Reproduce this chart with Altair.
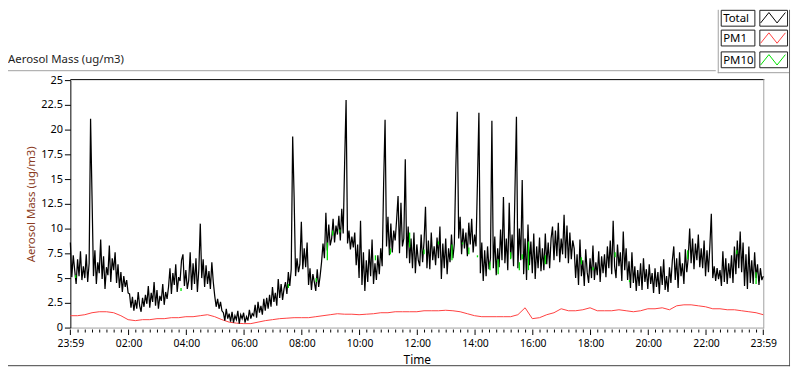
import altair as alt
import pandas as pd

FONT = "Noto Sans"

# ---------------- data ----------------
START_MIN = -1          # 23:59 of the previous day
TOTAL_STEP = 3          # minutes between Total samples
PM1_STEP = 15           # minutes between PM1 samples

total_values = [
    8.6, 5.1, 7.3, 5.8, 4.4, 6.9, 5.2, 7.7, 4.8, 6.2, 5.0, 7.4, 4.6, 6.5,
    21.1, 13.3,
    5.2, 7.8, 4.4, 6.6, 5.5, 8.9, 4.9, 7.2, 3.9, 6.1, 5.3, 8.3, 4.6, 7.0, 5.8, 7.6, 4.5,
    6.4, 4.0, 5.6, 3.6, 5.2, 4.1, 4.8, 3.5,
    3.4, 2.0, 3.1, 1.7, 2.8, 1.9, 3.6, 2.2, 1.6, 3.0, 2.1, 3.3,
    2.4, 4.2, 2.0, 3.5, 2.6, 4.6, 2.2, 3.8, 1.9, 3.2, 2.7, 4.4, 2.3, 3.6, 2.9,
    4.1, 6.0, 3.4, 5.5, 4.3, 6.4, 3.6, 5.1, 4.7, 6.8, 7.4, 4.2, 5.8, 3.9,
    4.8, 7.6, 3.8, 6.5, 4.4, 7.0, 3.6, 5.9,
    10.5,
    5.0, 6.9, 4.1, 6.3, 4.4, 5.7, 3.9, 6.6, 4.6,
    3.2, 2.1, 2.9, 1.9, 2.6, 1.7,
    1.5, 0.7, 1.9, 0.9, 1.4, 0.6, 1.6, 0.5, 1.2, 0.8, 1.7, 0.4, 1.3, 0.9, 1.5, 0.5,
    1.1, 0.7, 1.8, 0.9, 1.4,
    1.2, 2.3, 1.0, 2.6, 1.5, 2.2, 1.3, 2.9, 1.7, 3.0, 1.9,
    3.3, 2.1, 4.1, 2.6, 3.5, 2.2, 4.9, 3.0, 4.4, 2.8, 3.9, 4.6, 3.4,
    5.6, 4.2, 5.9,
    19.3, 13.2,
    5.2, 7.0, 5.6, 6.4,
    10.7,
    5.9, 8.0, 6.1, 8.6,
    4.3, 6.0, 3.8, 5.4, 4.6, 3.7, 5.9, 4.1, 5.2,
    6.6, 8.5, 7.0, 11.6, 7.8, 10.4, 8.3,
    9.0, 11.0, 8.6, 10.3, 9.4, 11.3, 8.8, 12.0, 9.5,
    16.7, 23.0,
    8.5, 9.8, 7.9, 9.2, 8.1, 9.6, 6.3, 8.4,
    5.0, 10.8, 4.3, 7.6, 3.7, 6.8, 4.6, 7.9, 5.2, 8.9, 4.4, 6.5, 4.8, 7.3,
    5.4, 8.0, 6.2,
    14.5, 21.0,
    8.2, 11.2, 7.3, 10.5, 7.6, 9.8, 8.8, 10.9,
    13.3, 7.5, 12.6, 8.2, 9.0, 17.0,
    7.0, 10.2, 6.5, 9.0, 6.0, 9.6, 5.5, 8.4, 6.8,
    6.2, 9.4, 6.6, 8.7,
    12.2,
    6.0, 8.8, 5.9, 9.6, 6.8, 8.2, 6.3, 9.1, 7.0,
    10.2, 4.9, 8.5, 6.0, 9.0, 5.4, 8.0, 6.6, 9.4, 7.0,
    8.5, 16.0, 21.8,
    9.0, 11.2, 7.4, 10.0, 8.0, 9.6, 7.2, 10.6, 8.4, 11.0, 7.6, 9.4, 8.2,
    14.7, 21.7,
    5.5, 8.6, 4.7, 7.8, 5.2, 8.2, 5.9, 7.0,
    20.9,
    6.0, 9.2, 5.3, 8.0, 6.1, 9.9, 6.8,
    13.2, 6.5, 9.0, 5.8, 12.6, 7.0, 9.4, 6.2,
    14.0, 21.3,
    6.0, 10.0, 6.8,
    14.9,
    5.4, 9.0, 4.8, 10.4, 6.3, 8.7, 5.5, 9.5, 4.9, 8.2, 6.0, 9.1, 5.7,
    8.0, 5.8, 9.5, 6.4, 8.6, 6.0, 9.0,
    10.2, 6.8, 9.8, 7.2, 10.6, 6.6, 9.0, 7.4, 11.4, 7.0, 10.3, 6.5, 9.6, 6.9, 8.8,
    8.0, 5.0, 7.4, 4.3, 8.9, 5.2, 6.8, 4.2, 7.9, 5.6, 4.5, 7.0, 5.0, 8.3, 4.8, 6.6,
    5.3, 7.7, 4.6, 7.2, 5.5,
    7.4, 5.1, 8.2, 6.0, 8.8, 5.4, 10.8, 6.2,
    5.0, 8.4, 6.2, 7.6, 4.7, 9.7, 5.8, 8.0, 4.8,
    6.7, 4.0, 7.6, 4.5, 6.2, 3.7, 5.8, 4.2, 6.5, 3.8, 7.0, 4.6, 5.9, 3.9, 6.4, 4.4,
    5.5, 3.5, 6.0, 4.1, 5.6, 3.4, 6.2, 4.3, 6.9, 3.8, 5.2, 3.6, 6.1,
    4.5, 6.8, 8.2, 4.8, 7.0, 4.0, 7.6, 5.2, 6.5, 4.4, 7.9, 5.6,
    7.0, 10.0, 6.5, 9.0, 5.9, 8.5, 6.8, 9.4, 6.1, 8.0,
    6.0, 8.8, 5.2, 7.8, 5.6, 8.3,
    11.5,
    5.0, 6.2, 4.7, 6.0, 4.9, 5.8,
    4.2, 7.7, 4.6, 7.0, 4.4, 6.5, 5.0, 7.3, 4.5,
    8.2, 5.4, 8.8, 6.0, 9.7, 5.6, 8.6,
    4.2, 7.4, 3.9, 8.2, 4.5, 6.8, 4.4, 7.6, 5.0, 6.4, 4.3, 6.0, 4.8, 5.2,
]

pm1_values = [
    1.2, 1.2, 1.3, 1.5, 1.6, 1.6, 1.5, 1.2, 0.8, 0.7,
    0.8, 0.8, 0.9, 0.9, 1.0, 1.0, 1.1, 1.1, 1.2, 1.3,
    1.1, 0.8, 0.55, 0.45, 0.4, 0.4, 0.55, 0.7, 0.8, 0.9,
    0.95, 1.0, 1.0, 1.0, 1.1, 1.2, 1.3, 1.4, 1.35, 1.35,
    1.3, 1.35, 1.4, 1.5, 1.5, 1.6, 1.6, 1.6, 1.6, 1.7,
    1.7, 1.7, 1.75, 1.7, 1.6, 1.4, 1.2, 1.1, 1.1, 1.1,
    1.1, 1.1, 1.3, 2.0, 0.9, 1.0, 1.3, 1.5, 1.9, 1.7,
    1.7, 1.8, 2.0, 1.7, 1.7, 1.7, 1.8, 1.7, 1.6, 1.7,
    1.9, 1.9, 2.0, 1.8, 2.2, 2.3, 2.3, 2.2, 2.1, 1.9,
    1.9, 1.8, 1.8, 1.7, 1.6, 1.5, 1.3,
]

# PM10: the parts of the PM10 trace that show from under the Total trace
pm10_minutes = [10, 229, 452, 510, 533, 544, 559, 633, 664, 704,
                734, 764, 792, 814, 827, 845, 871, 888, 914, 932,
                938, 951, 986, 1061, 1085, 1131, 1161, 1282, 1384, 1424]
pm10_low = [5.0, 3.7, 4.0, 4.6, 6.8, 9.3, 9.6, 6.8, 7.4, 8.1,
            7.4, 8.4, 6.8, 8.4, 7.4, 7.1, 5.8, 5.4, 6.9, 5.8,
            6.9, 5.8, 6.4, 6.4, 5.8, 7.1, 4.6, 6.9, 7.4, 4.4]
pm10_high = [5.3, 4.0, 4.4, 5.0, 8.6, 9.8, 9.9, 7.3, 8.0, 9.6,
             7.9, 8.7, 8.4, 8.6, 8.1, 7.3, 6.6, 6.9, 7.6, 6.6,
             7.4, 8.7, 7.3, 7.1, 6.1, 7.6, 4.8, 7.8, 7.8, 5.6]

x_major = [-1, 120, 240, 360, 480, 600, 720, 840, 960, 1080, 1200, 1320, 1439]
x_labels = ["23:59", "02:00", "04:00", "06:00", "08:00", "10:00", "12:00",
            "14:00", "16:00", "18:00", "20:00", "22:00", "23:59"]
x_minor = [m for m in range(15, 1440, 15) if m % 120 != 0]
y_ticks = [0, 2.5, 5, 7.5, 10, 12.5, 15, 17.5, 20, 22.5, 25]

series_names = ["Total", "PM1", "PM10"]
series_colors = ["#000000", "#ff4040", "#00e000"]

chart_title = "Aerosol Mass (ug/m3)"
y_title = "Aerosol Mass (ug/m3)"
x_title = "Time"

# ---------------- tables ----------------
total_df = pd.DataFrame({
    "minute": [START_MIN + TOTAL_STEP * i for i in range(len(total_values))],
    "value": total_values,
})
pm1_df = pd.DataFrame({
    "minute": [START_MIN + PM1_STEP * i for i in range(len(pm1_values))],
    "value": pm1_values,
})
pm10_df = pd.DataFrame({"minute": pm10_minutes, "low": pm10_low, "high": pm10_high})
major_df = pd.DataFrame({"minute": x_major})
minor_df = pd.DataFrame({"minute": x_minor})
dummy = pd.DataFrame({"k": [0]})

# ---------------- scales / axes ----------------
W, H = 700, 250
xscale = alt.Scale(domain=[-1, 1439], nice=False, zero=False)
yscale = alt.Scale(domain=[0, 25], nice=False, zero=True)

label_expr = "''"
for v, lab in reversed(list(zip(x_major, x_labels))):
    label_expr = f"datum.value == {v} ? '{lab}' : ({label_expr})"

x_axis = alt.Axis(values=x_major, labelExpr=label_expr, ticks=False, grid=False,
                  domainColor="#a0a0a0", domainWidth=1,
                  labelFont=FONT, labelFontSize=10.5, labelColor="#000000",
                  labelPadding=19, labelBaseline="alphabetic", labelFlush=False,
                  labelOverlap=False,
                  title=x_title, titleFont=FONT, titleFontSize=12,
                  titleFontWeight="normal", titleColor="#000000",
                  titleX=350, titleY=36.5, titleBaseline="alphabetic")
y_axis = alt.Axis(values=y_ticks, labelExpr="datum.value + ''", tickSize=6,
                  tickColor="#000000", domainColor="#000000", grid=False,
                  labelFont=FONT, labelFontSize=11, labelColor="#000000", labelPadding=2,
                  title=y_title, titleFont=FONT, titleFontSize=11.5,
                  titleFontWeight="normal", titleColor="#8a3b22",
                  titleX=-39, titleY=125, titleAlign="center", titleBaseline="middle")

X = alt.X("minute:Q", scale=xscale, axis=x_axis)
Y = alt.Y("value:Q", scale=yscale, axis=y_axis)


def hline(y, x1, x2, color):
    return alt.Chart(dummy).mark_rule(color=color, strokeWidth=1).encode(
        x=alt.value(x1), x2=alt.value(x2), y=alt.value(y))


def vline(x, y1, y2, color):
    return alt.Chart(dummy).mark_rule(color=color, strokeWidth=1).encode(
        x=alt.value(x), y=alt.value(y1), y2=alt.value(y2))


layers = [
    hline(-0.5, 0, 701, "#000000"),          # plot top border
    vline(700.5, -1, 251, "#a0a0a0"),        # plot right border
    hline(-9.5, -63, 652, "#a0a0a0"),        # panel frame
    vline(654.5, -71, -7, "#a0a0a0"),
    hline(-7.5, 654, 727, "#a0a0a0"),
    vline(726.5, -71, 289, "#696969"),
    hline(288.5, -63, 727, "#404040"),
]

pm1_line = alt.Chart(pm1_df).mark_line(color=series_colors[1], strokeWidth=1).encode(x=X, y=Y)
total_line = alt.Chart(total_df).mark_line(color=series_colors[0], strokeWidth=1.25).encode(x=X, y=Y)
pm10_marks = alt.Chart(pm10_df).mark_rule(color=series_colors[2], strokeWidth=1.3).encode(
    x=X, y=alt.Y("low:Q", scale=yscale, axis=y_axis), y2="high:Q")
major_ticks = alt.Chart(major_df).mark_rule(color="#000000", strokeWidth=1).encode(
    x=X, y=alt.value(252), y2=alt.value(257.5))
minor_ticks = alt.Chart(minor_df).mark_rule(color="#000000", strokeWidth=1).encode(
    x=X, y=alt.value(252), y2=alt.value(255))

layers += [pm1_line, total_line, pm10_marks, major_ticks, minor_ticks]

layers.append(
    alt.Chart(dummy).mark_text(align="left", baseline="alphabetic", font=FONT,
                               fontSize=11.5, color="#1e1e1e").encode(
        x=alt.value(-63), y=alt.value(-17), text=alt.value(chart_title)))

# legend rows: (box top, box bottom, text baseline, swatch centre) in page pixels
legend_rows = [(8.5, 24.5, 20.5, 16.0), (28.5, 44.5, 40.5, 36.5), (50.5, 66.5, 62.5, 58.5)]
ZIGZAG = "M-1,0.42L-0.33,-0.42L0.33,0.42L1,-0.42"
for (name, color), (bt, bb, tb, sc) in zip(zip(series_names, series_colors), legend_rows):
    ldf = pd.DataFrame({"series": [name]})
    layers.append(alt.Chart(ldf).mark_rect(fill="white", stroke="#1e1e1e", strokeWidth=1).encode(
        x=alt.value(657.5), x2=alt.value(691.5), y=alt.value(bt - 79), y2=alt.value(bb - 79)))
    layers.append(alt.Chart(ldf).mark_rect(fill="white", stroke="#1e1e1e", strokeWidth=1).encode(
        x=alt.value(696.5), x2=alt.value(724.5), y=alt.value(bt - 79), y2=alt.value(bb - 79)))
    layers.append(alt.Chart(ldf).mark_text(align="left", baseline="alphabetic", font=FONT,
                                           fontSize=11.5, color="#000000").encode(
        x=alt.value(659.5), y=alt.value(tb - 79), text="series:N"))
    layers.append(alt.Chart(ldf).mark_point(shape=ZIGZAG, size=625, filled=False, opacity=1,
                                            strokeWidth=1, color=color).encode(
        x=alt.value(709.8), y=alt.value(sc - 79)))

chart = alt.layer(*layers).properties(
    width=W, height=H,
    autosize=alt.AutoSizeParams(type="none"),
    padding={"left": 63, "top": 71, "right": 29, "bottom": 40},
    background="white",
).configure_view(stroke=None)

chart.save("out.html", embed_options={"renderer": "svg", "actions": False})
